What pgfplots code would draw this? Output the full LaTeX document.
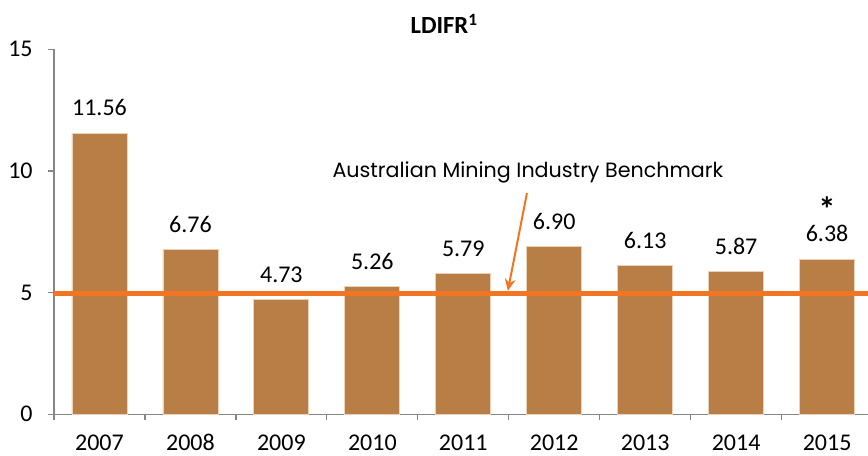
\documentclass[border=0pt]{standalone}
\usepackage{pgfplots}
\pgfplotsset{compat=1.18}
\usetikzlibrary{arrows.meta}
\usepackage{fontspec}
\setmainfont{Carlito}
\newfontfamily\annfont{Poppins}
\definecolor{barc}{RGB}{185,126,70}
\definecolor{linec}{RGB}{241,117,34}
\definecolor{axg}{RGB}{134,134,134}
\definecolor{edgec}{RGB}{236,210,182}
\newcommand{\starlabel}{\shortstack{{\fontsize{26}{26}\selectfont\bfseries *}\\6.38}}
\begin{document}
\begin{tikzpicture}
\begin{axis}[
  at={(0,0)}, anchor=south west,
  scale only axis, width=610.5pt, height=273.7pt,
  xmin=-0.5, xmax=8.45, ymin=0, ymax=15,
  axis x line*=bottom, axis y line*=left,
  axis line style={-, draw=axg, line width=0.9pt},
  tick align=outside,
  major tick length=4.5pt,
  tick style={draw=axg, line width=0.9pt},
  xtick={-0.5,0.5,1.5,2.5,3.5,4.5,5.5,6.5,7.5}, xticklabels={},
  extra x ticks={0,1,2,3,4,5,6,7,8},
  extra x tick labels={2007,2008,2009,2010,2011,2012,2013,2014,2015},
  extra x tick style={major tick length=0pt, tick label style={yshift=-12pt, text height=12pt, text depth=0pt}},
  ytick={0,5,10,15},
  yticklabel style={xshift=-8pt},
  tick label style={font=\fontsize{18}{20}\selectfont},
  /pgf/number format/assume math mode=true,
  clip=false,
]
\addplot[ybar, bar width=41.25pt, fill=barc, draw=edgec, line width=0.6pt,
  nodes near coords, point meta=explicit symbolic,
  nodes near coords style={font=\fontsize{18}{20}\selectfont, anchor=south, inner sep=0pt, yshift=12.4pt, text=black}]
  coordinates {
  (0,11.56) [11.56]
  (1,6.76) [6.76]
  (2,4.73) [4.73]
  (3,5.26) [5.26]
  (4,5.79) [5.79]
  (5,6.90) [6.90]
  (6,6.13) [6.13]
  (7,5.87) [5.87]
  (8,6.38) [\starlabel]
  };
\addplot[linec, line width=3.75pt, forget plot] coordinates {(-0.5,4.95) (8.45,4.95)};
\node[font=\annfont\fontsize{15.5}{17}\selectfont] at (axis cs:4.71,9.96) {Australian Mining Industry Benchmark};
\draw[linec, line width=1.5pt, -{Stealth[length=9pt,width=8pt]}] (axis cs:4.70,9.09) -- (axis cs:4.49,5.07);
\node[font=\fontsize{18.5}{21}\selectfont\bfseries] at (axis cs:3.79,16.04) {LDIFR\textsuperscript{1}};
\end{axis}
\pgfresetboundingbox
\useasboundingbox (-40.5pt,-31.3pt) rectangle (610.5pt,310.7pt);
\end{tikzpicture}
\end{document}
